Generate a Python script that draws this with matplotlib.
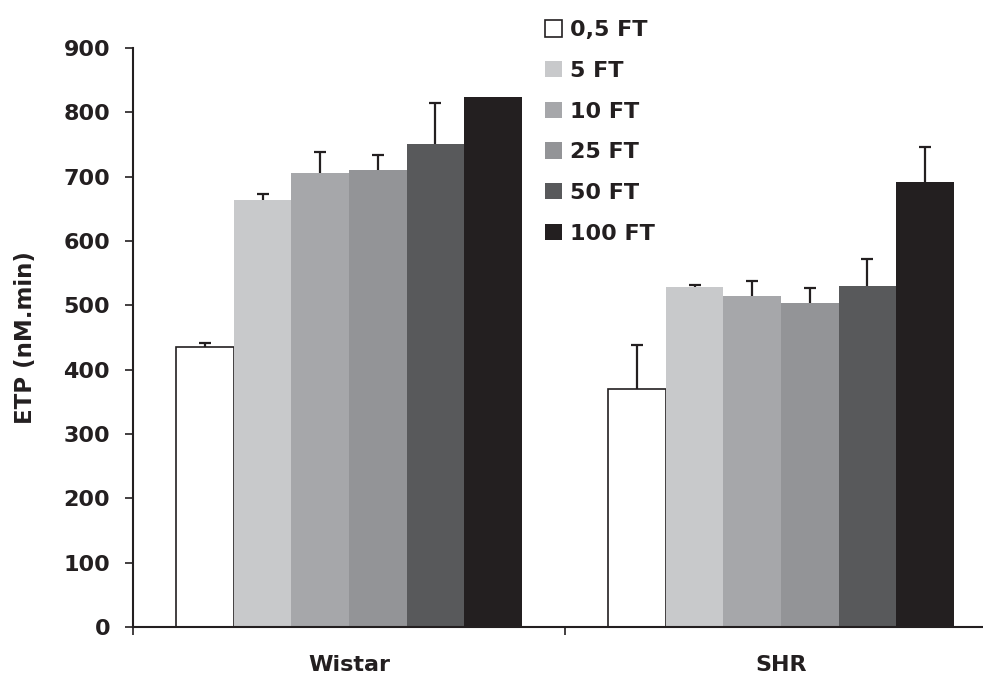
import numpy as np
import matplotlib
matplotlib.use("Agg")
import matplotlib.pyplot as plt

plt.rcParams['font.family'] = ['DejaVu Sans']
plt.rcParams['font.weight'] = 'bold'

groups = ["Wistar", "SHR"]
series = ["0,5 FT", "5 FT", "10 FT", "25 FT", "50 FT", "100 FT"]
means = {
    "0,5 FT": [435, 370],
    "5 FT": [664, 528],
    "10 FT": [706, 514],
    "25 FT": [710, 504],
    "50 FT": [751, 530],
    "100 FT": [824, 692],
}
errors = {
    "0,5 FT": [6, 68],
    "5 FT": [9, 4],
    "10 FT": [32, 24],
    "25 FT": [24, 23],
    "50 FT": [64, 42],
    "100 FT": [0, 54],
}
colors = ["#ffffff", "#c8c9cb", "#a6a7aa", "#939497", "#58595b", "#231f20"]
yticks = [0, 100, 200, 300, 400, 500, 600, 700, 800, 900]

fig = plt.figure(figsize=(9.83, 6.77), dpi=100)
ax = fig.add_axes([133/983, 1-627/677, (997-133)/983, (627-48)/677])

x = np.arange(len(groups))
n = len(series)
width = 0.8 / n
cap = 0.014
ink = "#231f20"
for i, s in enumerate(series):
    pos = x - 0.4 + width * (i + 0.5)
    ec = ink if i == 0 else 'none'
    lw = 1.2 if i == 0 else 0
    ax.bar(pos, means[s], width, color=colors[i], edgecolor=ec, linewidth=lw,
           label=s, zorder=2)
    for p, m, e in zip(pos, means[s], errors[s]):
        if e > 0:
            ax.vlines(p, m, m + e, colors=ink, linewidth=1.6, zorder=3)
            ax.hlines(m + e, p - cap, p + cap, colors=ink, linewidth=1.6, zorder=3)

ax.set_xlim(-0.5, 1.5)
ax.set_ylim(0, 900)
ax.set_yticks(yticks)
ax.set_yticklabels([str(v) for v in yticks], fontsize=16, fontweight='bold', color=ink)
ax.tick_params(axis='y', direction='out', length=6, width=1.2, pad=10.5, colors=ink)

ax.set_xticks(x)
ax.set_xticklabels(groups, fontsize=16, fontweight='bold', color=ink)
ax.tick_params(axis='x', which='major', length=0, pad=20)
ax.set_xticks([-0.5, 0.5, 1.5], minor=True)
ax.tick_params(axis='x', which='minor', direction='out', length=6, width=1.2, colors=ink)

for sp in ['top', 'right']:
    ax.spines[sp].set_visible(False)
for sp in ['left', 'bottom']:
    ax.spines[sp].set_color(ink)
    ax.spines[sp].set_linewidth(1.5)

ax.set_ylabel("ETP (nM.min)", fontsize=16.5, fontweight='bold', color=ink, labelpad=19)

leg = ax.legend(loc='upper left', bbox_to_anchor=(532/983, 1 - 7/677), bbox_transform=fig.transFigure,
                frameon=False, prop={'size': 16, 'weight': 'bold'},
                handlelength=0.75, handleheight=0.75, handletextpad=0.35,
                labelspacing=0.93, borderaxespad=0.2)
for t in leg.get_texts():
    t.set_color(ink)

fig.savefig("out.png", dpi=100)
